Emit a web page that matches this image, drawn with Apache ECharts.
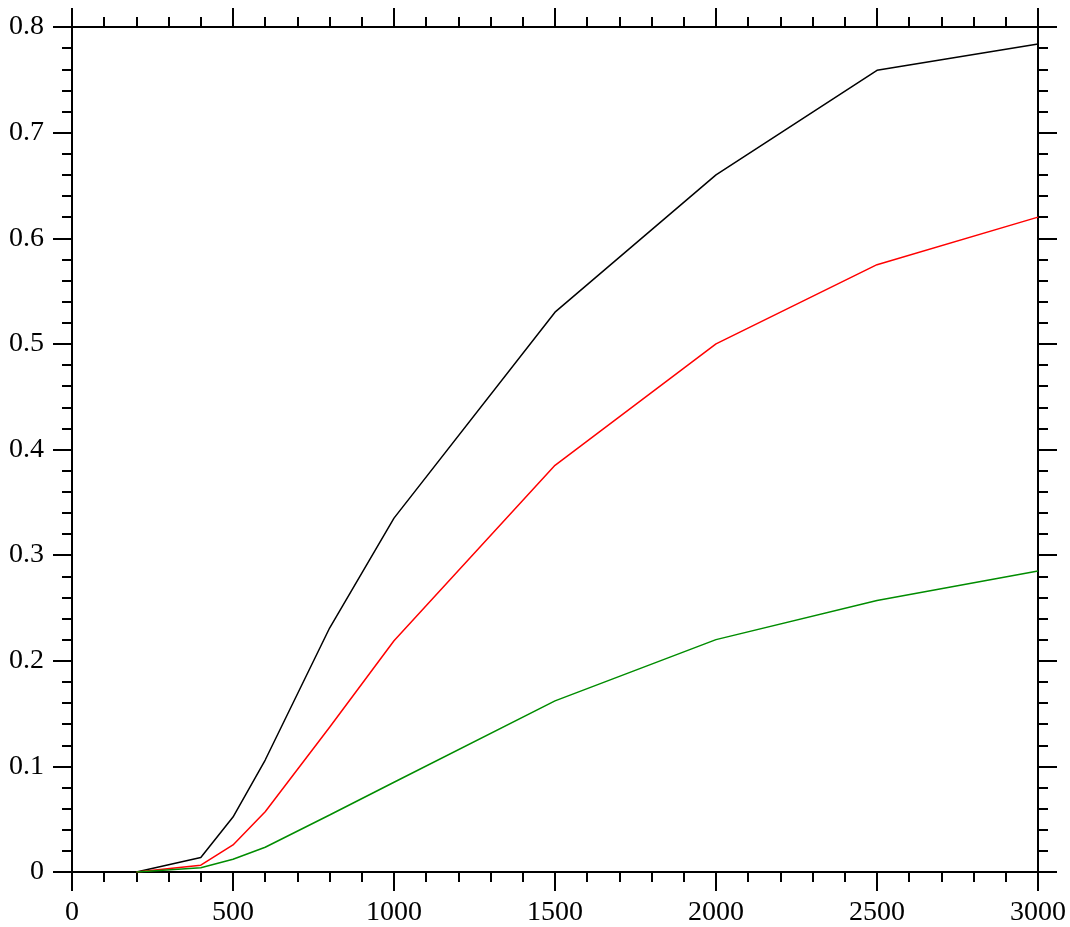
<!DOCTYPE html>
<html>
<head>
<meta charset="utf-8">
<script src="https://cdn.jsdelivr.net/npm/echarts@6/dist/echarts.min.js"></script>
<style>
  html, body { margin: 0; padding: 0; background: #fff; }
  #chart { width: 1070px; height: 927px; }
</style>
</head>
<body>
<div id="chart"></div>
<script>
// x 值
var xValues = [200, 400, 500, 600, 800, 1000, 1500, 2000, 2500, 3000];
// 三条曲线
var blackValues = [0, 0.0138, 0.052, 0.106, 0.231, 0.335, 0.530, 0.660, 0.759, 0.784];
var redValues   = [0, 0.0065, 0.0256, 0.057, 0.137, 0.219, 0.385, 0.500, 0.575, 0.620];
var greenValues = [0, 0.004, 0.012, 0.0234, 0.054, 0.085, 0.162, 0.220, 0.257, 0.285];

function pairs(ys) {
  return xValues.map(function (x, i) { return [x, ys[i]]; });
}

var chart = echarts.init(document.getElementById('chart'));

var font = 'Liberation Serif, Times New Roman, serif';
var axisLine = { show: true, onZero: false, lineStyle: { color: '#000', width: 2 } };
var tick = { show: true, inside: false, length: 19, lineStyle: { color: '#000', width: 2 } };
var minor = { show: true, splitNumber: 5, length: 10, lineStyle: { color: '#000', width: 2 } };

function xAxis(pos, labels) {
  return {
    type: 'value', position: pos, min: 0, max: 3000, interval: 500,
    axisLine: axisLine, axisTick: tick, minorTick: minor,
    splitLine: { show: false }, minorSplitLine: { show: false },
    axisLabel: { show: labels, color: '#000', fontFamily: font, fontSize: 28, margin: 27,
      formatter: function (v) { return String(v); } }
  };
}
function yAxis(pos, labels) {
  return {
    type: 'value', position: pos, min: 0, max: 0.8, interval: 0.1,
    axisLine: axisLine, axisTick: tick, minorTick: minor,
    splitLine: { show: false }, minorSplitLine: { show: false },
    axisLabel: { show: labels, color: '#000', fontFamily: font, fontSize: 28, margin: 28 }
  };
}

var option = {
  animation: false,
  backgroundColor: '#fff',
  grid: { left: 72, right: 32, top: 27, bottom: 55 },
  xAxis: [xAxis('bottom', true), xAxis('top', false)],
  yAxis: [yAxis('left', true), yAxis('right', false)],
  series: [
    { name: 'black', type: 'line', data: pairs(blackValues), showSymbol: false,
      lineStyle: { color: '#000', width: 1.5 } },
    { name: 'red', type: 'line', data: pairs(redValues), showSymbol: false,
      lineStyle: { color: '#ff0000', width: 1.5 } },
    { name: 'green', type: 'line', data: pairs(greenValues), showSymbol: false,
      lineStyle: { color: '#008c00', width: 1.5 } }
  ]
};

chart.setOption(option);
</script>
</body>
</html>
